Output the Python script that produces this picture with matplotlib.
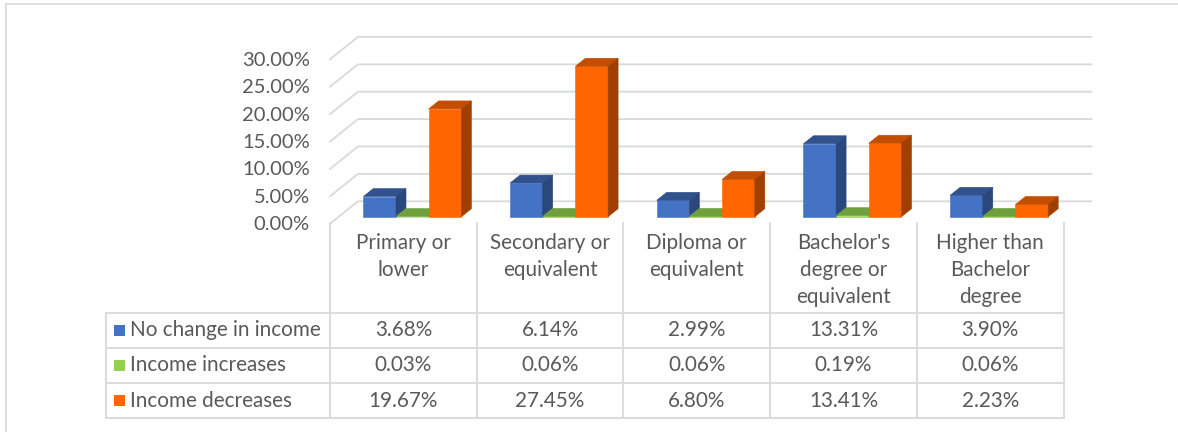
import matplotlib
matplotlib.use("Agg")
import matplotlib.pyplot as plt
from matplotlib.patches import Polygon, Rectangle

plt.rcParams['font.family'] = ['Lato', 'DejaVu Sans']

# data (percent)
categories = ["Primary or\nlower", "Secondary or\nequivalent", "Diploma or\nequivalent",
              "Bachelor's\ndegree or\nequivalent", "Higher than\nBachelor\ndegree"]
series_names = ["No change in income", "Income increases", "Income decreases"]
no_change = [3.68, 6.14, 2.99, 13.31, 3.90]
increases = [0.03, 0.06, 0.06, 0.19, 0.06]
decreases = [19.67, 27.45, 6.80, 13.41, 2.23]
yticks = [0, 5, 10, 15, 20, 25, 30]

values = [no_change, increases, decreases]
front_cols = ['#4472C4', '#92D050', '#FF6600']
top_cols = ['#31528D', '#70A03E', '#C44E00']
side_cols = ['#2B487C', '#5E8A33', '#A04000']
grid_c = '#D9D9D9'
txt_c = '#595959'

W, H = 1178, 432
fig = plt.figure(figsize=(W / 100, H / 100), dpi=100)

# pixel layout of the 3d plot area
cat_px = 146.7          # width of one category
pct_px = 5.48           # pixels per percent
x_front, y_front0 = 330, 223.7
# depth offsets in data units
DX, DY = 28 / cat_px, 22.4 / pct_px        # back wall
OX, OY = 9 / cat_px, 7 / pct_px            # bar plane
BDX, BDY = 10 / cat_px, 8 / pct_px         # bar depth
n = len(categories)

ax_w = n + DX
ax_h = 30 + DY
ax = fig.add_axes([x_front / W, (H - y_front0) / H,
                   ax_w * cat_px / W, ax_h * pct_px / H])
ax.set_xlim(0, ax_w)
ax.set_ylim(0, ax_h)
ax.axis('off')

# walls gridlines
for t in yticks:
    ax.plot([0, DX, n + DX], [t, t + DY, t + DY], color=grid_c, lw=1.3,
            clip_on=False, zorder=1)
    ax.text(-20 / cat_px, t - 0.2, f"{t:.2f}%", ha='right', va='center',
            fontsize=14.5, color=txt_c, clip_on=False)

# 3d bars
bw = 0.2229
gap = (1 - 3 * bw) / 2
for i in range(n):
    for j, vals in enumerate(values):
        v = vals[i]
        x0 = i + gap + j * bw + OX
        y0 = OY
        kw = dict(clip_on=False, zorder=3 + i, lw=0.4)
        ax.add_patch(Rectangle((x0, y0), bw, v, facecolor=front_cols[j],
                               edgecolor=front_cols[j], **kw))
        ax.add_patch(Polygon([(x0, y0 + v), (x0 + bw, y0 + v),
                              (x0 + bw + BDX, y0 + v + BDY), (x0 + BDX, y0 + v + BDY)],
                             facecolor=top_cols[j], edgecolor=top_cols[j], **kw))
        ax.add_patch(Polygon([(x0 + bw, y0), (x0 + bw, y0 + v),
                              (x0 + bw + BDX, y0 + v + BDY), (x0 + bw + BDX, y0 + BDY)],
                             facecolor=side_cols[j], edgecolor=side_cols[j], **kw))

# data table, drawn in pixel coordinates
tab = fig.add_axes([0, 0, 1, 1], zorder=-1)
tab.set_xlim(0, W)
tab.set_ylim(H, 0)
tab.axis('off')

col_x = [x_front + k * cat_px for k in range(n + 1)]
leg_x = 106
head_top = 223
row_y = [312.5, 347.7, 383.0, 418.3]

tab.plot([6, W], [4, 4], color=grid_c, lw=1.2)
tab.plot([6, 6], [4, H], color=grid_c, lw=1.2)

for y in row_y:
    tab.plot([leg_x, col_x[-1]], [y, y], color=grid_c, lw=1.3)
tab.plot([leg_x, leg_x], [row_y[0], row_y[-1]], color=grid_c, lw=1.3)
for x in col_x:
    tab.plot([x, x], [head_top, row_y[-1]], color=grid_c, lw=1.3)

fs = 14.9
for i, cat in enumerate(categories):
    cx = (col_x[i] + col_x[i + 1]) / 2
    for k, line in enumerate(cat.split("\n")):
        tab.text(cx, 243 + 27 * k, line, ha='center', va='center',
                 fontsize=fs, color=txt_c)

for j, name in enumerate(series_names):
    cy = (row_y[j] + row_y[j + 1]) / 2
    tab.add_patch(Rectangle((114, cy - 5.5), 11, 11, facecolor=front_cols[j],
                            edgecolor='none'))
    tab.text(130, cy, name, ha='left', va='center', fontsize=fs, color=txt_c)
    for i in range(n):
        cx = (col_x[i] + col_x[i + 1]) / 2
        tab.text(cx, cy, f"{values[j][i]:.2f}%", ha='center', va='center',
                 fontsize=fs, color=txt_c)

fig.savefig("out.png", dpi=100, facecolor='white')
